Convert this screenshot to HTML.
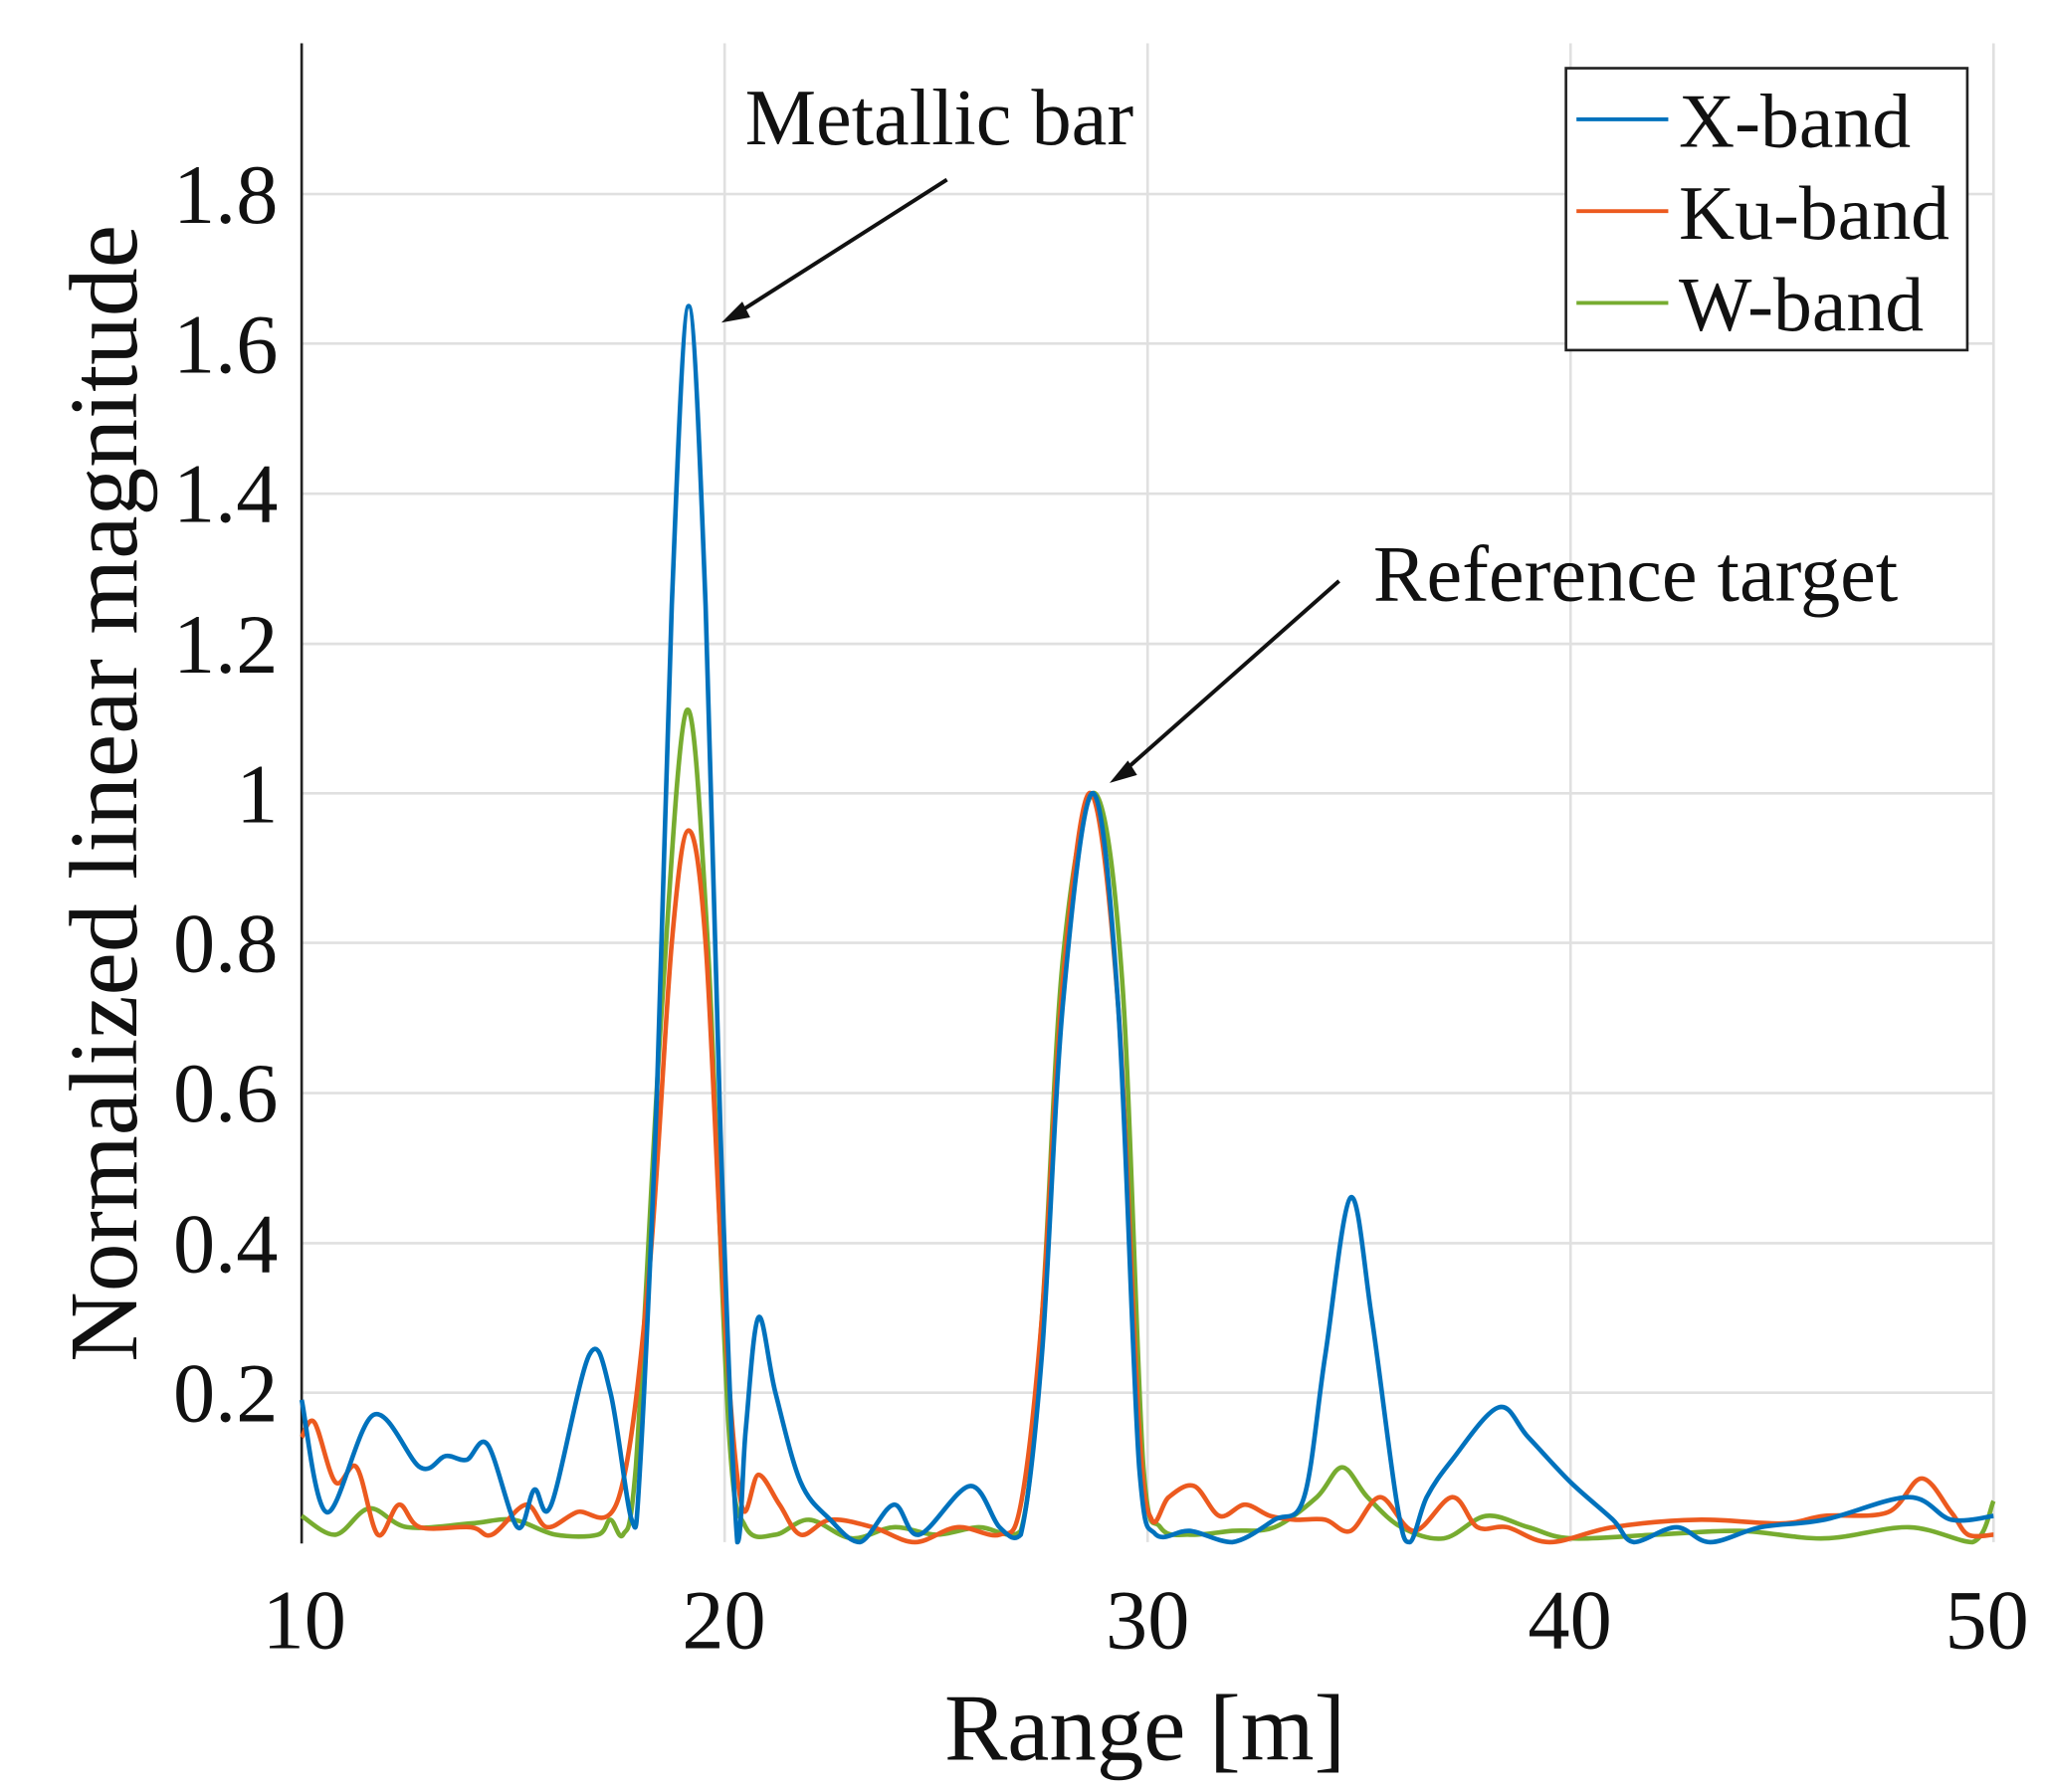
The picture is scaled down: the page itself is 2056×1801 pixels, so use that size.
<!DOCTYPE html>
<html><head><meta charset="utf-8"><style>html,body{margin:0;padding:0;background:#fff}svg{display:block}</style></head>
<body>
<svg id="s" width="2056" height="1801" viewBox="0 0 1560 1366.5" preserveAspectRatio="none" xmlns="http://www.w3.org/2000/svg" font-family="Liberation Serif, serif">
<g stroke="#e0e0e0" stroke-width="2">
<line x1="552.5" y1="33" x2="552.5" y2="1176"/><line x1="875" y1="33" x2="875" y2="1176"/><line x1="1197.5" y1="33" x2="1197.5" y2="1176"/><line x1="1520" y1="33" x2="1520" y2="1176"/>
<line x1="230" y1="148" x2="1520" y2="148"/><line x1="230" y1="262" x2="1520" y2="262"/><line x1="230" y1="376.5" x2="1520" y2="376.5"/><line x1="230" y1="491" x2="1520" y2="491"/><line x1="230" y1="605" x2="1520" y2="605"/><line x1="230" y1="719" x2="1520" y2="719"/><line x1="230" y1="833.5" x2="1520" y2="833.5"/><line x1="230" y1="948" x2="1520" y2="948"/><line x1="230" y1="1062" x2="1520" y2="1062"/>
</g>
<line x1="230" y1="33" x2="230" y2="1177" stroke="#222" stroke-width="2"/>
<g fill="none" stroke-width="3.5" stroke-linejoin="round">
<path id="pw" stroke="#77ac30"/><path id="pk" stroke="#ec5a1f"/><path id="px" stroke="#0072bd"/>
</g>
<g font-size="64" fill="#111" text-anchor="end">
<text x="212" y="170">1.8</text><text x="212" y="284">1.6</text><text x="212" y="398">1.4</text><text x="212" y="513">1.2</text><text x="212" y="627">1</text><text x="212" y="741">0.8</text><text x="212" y="855">0.6</text><text x="212" y="970">0.4</text><text x="212" y="1084">0.2</text>
</g>
<g font-size="64" fill="#111" text-anchor="middle">
<text x="232" y="1257">10</text><text x="552" y="1257">20</text><text x="875" y="1257">30</text><text x="1197" y="1257">40</text><text x="1515" y="1257">50</text>
<text x="873" y="1342" font-size="72">Range [m]</text>
<text transform="translate(104,605) rotate(-90)" font-size="74">Normalized linear magnitude</text>
</g>
<g font-size="61" fill="#111">
<text x="568" y="110">Metallic bar</text>
<text x="1047" y="458">Reference target</text>
</g>
<g stroke="#111" stroke-width="3">
<line x1="722" y1="137" x2="562" y2="239"/><line x1="1021" y1="443" x2="857" y2="588"/>
</g>
<polygon points="550,246 566,230 572,242" fill="#111"/>
<polygon points="846,597 860,580 867,591" fill="#111"/>
<rect x="1194" y="52" width="306" height="215" fill="#fff" stroke="#222" stroke-width="2"/>
<g stroke-width="3"><line x1="1202" y1="91" x2="1272" y2="91" stroke="#0072bd"/><line x1="1202" y1="161" x2="1272" y2="161" stroke="#ec5a1f"/><line x1="1202" y1="231" x2="1272" y2="231" stroke="#77ac30"/></g>
<g font-size="59" fill="#111"><text x="1280" y="112">X-band</text><text x="1280" y="182">Ku-band</text><text x="1280" y="252">W-band</text></g>
</svg>
<script>
function X(r){return 230+(r-10)*32.25}
function Y(v){return 1176-v*571.25}
function path(d){var p=[];for(var i=0;i<d.length;i+=2)p.push([X(d[i]),Y(d[i+1])]);
var s="M"+p[0][0].toFixed(1)+","+p[0][1].toFixed(1);
for(var i=0;i<p.length-1;i++){var a=p[i-1]||p[i],b=p[i],c=p[i+1],e=p[i+2]||c;
var c1=[b[0]+(c[0]-a[0])/6,b[1]+(c[1]-a[1])/6],c2=[c[0]-(e[0]-b[0])/6,c[1]-(e[1]-b[1])/6];
c1[1]=Math.min(c1[1],1176);c2[1]=Math.min(c2[1],1176);
s+="C"+c1[0].toFixed(1)+","+c1[1].toFixed(1)+" "+c2[0].toFixed(1)+","+c2[1].toFixed(1)+" "+c[0].toFixed(1)+","+c[1].toFixed(1);}
return s}
var xb=[10,0.19,10.6,0.04,11.7,0.17,12.8,0.10,13.4,0.115,13.9,0.11,14.4,0.13,15.1,0.02,15.5,0.07,15.9,0.05,16.8,0.25,17.3,0.2,17.8,0.03,18.0,0.1,18.4,0.6,18.75,1.25,19.15,1.65,19.55,1.25,19.9,0.55,20.3,0.0,20.5,0.15,20.8,0.3,21.2,0.2,21.8,0.08,22.5,0.03,23.2,0.0,24.0,0.05,24.6,0.01,25.8,0.075,26.5,0.02,27,0.01,27.5,0.25,28,0.72,28.7,1.0,29.3,0.72,29.8,0.1,30.2,0.01,31,0.015,32,0.0,33,0.03,33.7,0.06,34.2,0.25,34.8,0.46,35.3,0.3,35.9,0.05,36.2,0.0,36.6,0.06,37.2,0.11,38.3,0.18,39,0.14,40,0.08,41,0.03,41.5,0.0,42.5,0.02,43.3,0.0,44.5,0.02,46,0.03,48,0.06,49,0.03,50,0.035];
var ku=[10,0.14,10.3,0.16,10.8,0.08,11.3,0.1,11.8,0.01,12.3,0.05,12.8,0.02,14,0.02,14.5,0.01,15.3,0.05,15.8,0.02,16.5,0.04,17.5,0.06,18.2,0.35,18.75,0.8,19.15,0.95,19.55,0.8,20,0.3,20.4,0.05,20.8,0.09,21.3,0.05,21.8,0.01,22.5,0.03,23.5,0.02,24.5,0.0,25.5,0.02,26.5,0.01,27,0.05,27.5,0.3,28,0.75,28.65,1.0,29.3,0.72,29.8,0.15,30.1,0.03,30.5,0.06,31.1,0.075,31.7,0.035,32.3,0.05,32.9,0.035,33.5,0.03,34.2,0.03,34.8,0.015,35.5,0.06,36.3,0.015,37.2,0.06,37.8,0.02,38.5,0.02,39.5,0.0,41,0.02,43,0.03,45,0.025,46,0.035,47.5,0.04,48.3,0.085,49,0.04,49.4,0.01,50,0.01];
var wb=[10,0.035,10.8,0.01,11.6,0.045,12.5,0.02,14,0.025,15,0.03,16,0.01,17,0.01,17.3,0.03,17.6,0.01,17.9,0.1,18.5,0.7,19.1,1.11,19.6,0.8,20.1,0.15,20.5,0.02,21.2,0.01,22,0.03,23,0.005,24,0.02,25,0.01,26,0.02,27,0.015,27.5,0.3,28,0.78,28.75,1.0,29.4,0.75,29.9,0.1,30.3,0.02,31,0.01,32,0.015,33,0.02,34,0.06,34.6,0.1,35.2,0.06,36,0.02,37,0.005,38,0.035,39,0.02,40,0.005,42,0.01,44,0.015,46,0.005,48,0.02,49.5,0.0,50,0.055];
document.getElementById("px").setAttribute("d",path(xb));
document.getElementById("pk").setAttribute("d",path(ku));
document.getElementById("pw").setAttribute("d",path(wb));
</script>
</body></html>
